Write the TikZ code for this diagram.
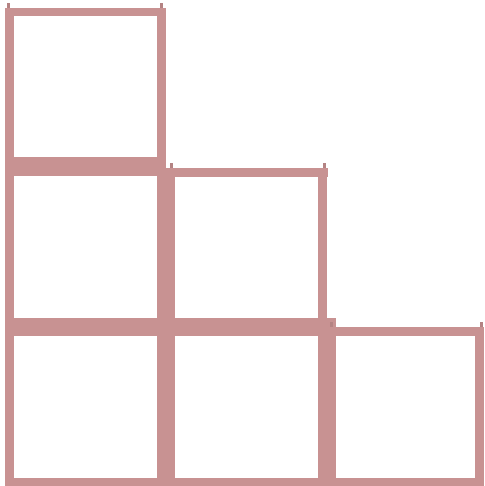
\documentclass[tikz,border=0pt]{standalone}
\definecolor{frame}{RGB}{200,146,146}
\tikzset{bar/.style={fill=frame,draw=none},nub/.style={fill=frame!90!black,draw=none}}
\begin{document}
\begin{tikzpicture}[x=1pt,y=-1pt]
\useasboundingbox (0,0) rectangle (484,486);
% horizontal bars
\fill[bar] (5,8) rectangle (166,16);
\fill[bar] (5,157) rectangle (166,176);
\fill[bar] (157,168) rectangle (328,177);
\fill[bar] (5,318) rectangle (336,336);
\fill[bar] (318,327) rectangle (484,336);
\fill[bar] (5,478) rectangle (484,486);
% vertical bars
\fill[bar] (5,8) rectangle (14,486);
\fill[bar] (157,8) rectangle (166,486);
\fill[bar] (166,168) rectangle (175,486);
\fill[bar] (318,168) rectangle (327,486);
\fill[bar] (327,327) rectangle (336,486);
\fill[bar] (475,327) rectangle (484,486);
% small nubs
\fill[nub] (7,3) rectangle (10,8);
\fill[nub] (160,3) rectangle (163,8);
\fill[nub] (170,163) rectangle (173,168);
\fill[nub] (323,163) rectangle (326,168);
\fill[nub] (330,322) rectangle (333,327);
\fill[nub] (480,322) rectangle (483,327);
\end{tikzpicture}
\end{document}
